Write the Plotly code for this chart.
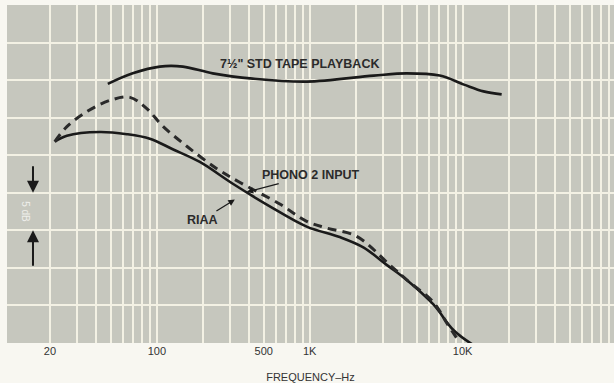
import plotly.graph_objects as go

# ---- data (frequency in Hz, relative level in dB; 5 dB per division) ----
tape_f = [47.8, 69.6, 104.6, 148, 232, 424, 955, 2620, 4310, 7080, 10200, 13700, 18000]
tape_db = [34.5, 35.9, 36.8, 36.8, 35.9, 35.2, 34.8, 35.6, 35.9, 35.6, 34.4, 33.5, 33.1]

phono_f = [21.5, 25.8, 34.8, 49.3, 66.7, 86.0, 109, 157, 247, 348, 637, 955, 1291, 2028,
           3335, 4310, 6460, 7850, 9550]
phono_db = [26.8, 28.8, 30.8, 32.3, 32.7, 31.2, 28.9, 26.2, 23.2, 21.4, 18.5, 16.2, 15.3, 14.2,
            10.4, 8.4, 5.4, 2.7, 0.1]

riaa_f = [21.5, 25.8, 42.4, 63.7, 90, 127, 191, 314, 548, 955, 1570, 2255, 3185, 4310, 6460,
          8730, 11800]
riaa_db = [26.8, 27.6, 28.1, 27.8, 27.2, 25.8, 24.1, 21.2, 18.2, 15.5, 14.1, 12.7, 10.4, 8.4,
           5.1, 1.7, -0.3]

tick_vals = [20, 100, 500, 1000, 10000]
tick_text = ["20", "100", "500", "1K", "10K"]
grid_freqs = [m * 10 ** e for e in range(1, 5) for m in range(1, 10)] + [100000]

INK = "#1a1a1a"
GRID = "#f3f1e4"

fig = go.Figure()
fig.add_trace(go.Scatter(x=tape_f, y=tape_db, mode="lines", line=dict(color=INK, width=2.6, shape="spline"),
                         showlegend=False, hoverinfo="skip"))
fig.add_trace(go.Scatter(x=riaa_f, y=riaa_db, mode="lines", line=dict(color=INK, width=2.6, shape="spline"),
                         showlegend=False, hoverinfo="skip"))
fig.add_trace(go.Scatter(x=phono_f, y=phono_db, mode="lines",
                         line=dict(color="#2a2a2a", width=3, shape="spline", dash="9px,6px"),
                         showlegend=False, hoverinfo="skip"))

lab_font = dict(family="Liberation Sans, Arial, sans-serif", size=12.5, color="#2b2b2b", weight="bold")

fig.add_annotation(x=2.935, y=37.1, xref="x", yref="y", text="7½\" STD TAPE PLAYBACK",
                   showarrow=False, font=lab_font)
fig.add_annotation(x=2.588, y=20.1, xref="x", yref="y", text="PHONO 2 INPUT",
                   showarrow=True, ax=64, ay=-17, arrowhead=2, arrowsize=1, arrowwidth=1.3,
                   arrowcolor=INK, font=lab_font)
fig.add_annotation(x=2.510, y=19.1, xref="x", yref="y", text="RIAA",
                   showarrow=True, ax=-32, ay=20, arrowhead=2, arrowsize=1, arrowwidth=1.3,
                   arrowcolor=INK, font=lab_font)
# 5 dB scale marker
fig.add_annotation(x=1.19, y=20, xref="x", yref="y", text="", showarrow=True, ax=0, ay=-28,
                   arrowhead=2, arrowsize=1.2, arrowwidth=2, arrowcolor=INK)
fig.add_annotation(x=1.19, y=15, xref="x", yref="y", text="", showarrow=True, ax=0, ay=37,
                   arrowhead=2, arrowsize=1.2, arrowwidth=2, arrowcolor=INK)
fig.add_annotation(x=1.14, y=17.5, xref="x", yref="y", text="5 dB", textangle=90,
                   showarrow=False, font=dict(family="Liberation Sans, Arial, sans-serif",
                                              size=10, color="#eeeeea"))

fig.update_layout(
    width=614, height=383,
    margin=dict(l=7, r=0, t=5, b=40, autoexpand=False),
    paper_bgcolor="#f8f7f1",
    plot_bgcolor="#c6c7be",
    font=dict(family="Liberation Sans, Arial, sans-serif", size=11, color="#333333"),
    xaxis=dict(
        type="log", range=[1.02, 4.99],
        tickmode="array", tickvals=tick_vals, ticktext=tick_text,
        showgrid=True, gridcolor=GRID, gridwidth=1.6,
        ticks="", showline=False, zeroline=False,
        tickfont=dict(size=11, color="#333333"),
        title=dict(text="FREQUENCY–Hz", font=dict(size=11, color="#333333"), standoff=17),
        minor=dict(tickmode="array", tickvals=grid_freqs, showgrid=True,
                   gridcolor=GRID, gridwidth=1.6, ticks=""),
    ),
    yaxis=dict(
        range=[0, 45], dtick=5, tick0=0,
        showgrid=True, gridcolor=GRID, gridwidth=1.6,
        showticklabels=False, ticks="", showline=False, zeroline=False,
    ),
)

fig.write_html("out.html", config={"displayModeBar": False},
               post_script="document.body.style.margin='0';")
